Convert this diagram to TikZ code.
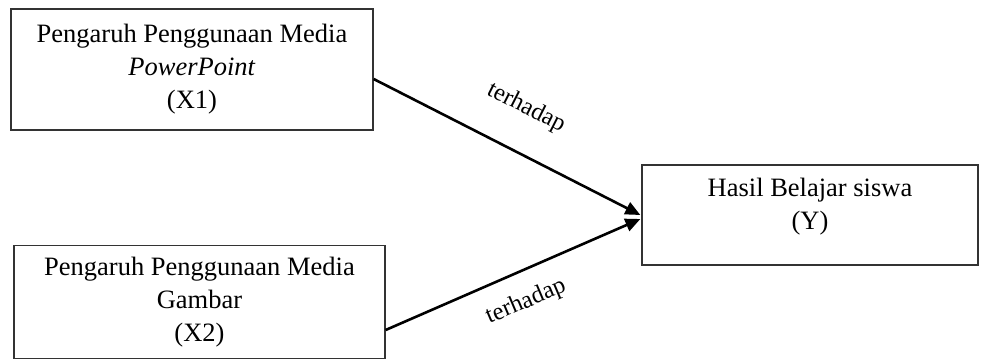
\documentclass[tikz,border=0pt]{standalone}
\usepackage{fontspec}
\setmainfont{Liberation Serif}
\usetikzlibrary{arrows.meta}
\begin{document}
\begin{tikzpicture}[x=1pt,y=-1pt,
  box/.style 2 args={draw=black!80, line width=1.3pt, minimum width=#1, minimum height=#2, inner sep=0pt, align=center, font=\fontsize{26.5}{33}\selectfont},
  txt/.style={inner sep=0pt, align=center, font=\fontsize{26.5}{33}\selectfont},
  lbl/.style={inner sep=0pt, font=\fontsize{24.5}{30}\selectfont},
  arr/.style={line width=2.6pt, -{Triangle[length=15pt,width=13pt]}}]
\useasboundingbox (0,0) rectangle (983,361);
\node[box={362pt}{121pt}] (x1) at (192,69.5) {Pengaruh Penggunaan Media\\\textit{PowerPoint}\\(X1)};
\node[box={371pt}{113pt}] (x2) at (199.5,302) {Pengaruh Penggunaan Media\\Gambar\\(X2)};
\node[box={336pt}{100pt}] (y) at (810,215) {};
\node[txt] (ytxt) at (810,207) {Hasil Belajar siswa\\(Y)};
\draw[arr] ([yshift=-9.5pt]x1.east) -- ([xshift=-1pt]y.west);
\draw[arr] ([yshift=-28pt]x2.east) -- ([xshift=-1pt,yshift=-4pt]y.west);
\node[lbl, rotate=-27] (t1) at (526,108) {terhadap};
\node[lbl, rotate=23] (t2) at (526,302) {terhadap};
\end{tikzpicture}
\end{document}
